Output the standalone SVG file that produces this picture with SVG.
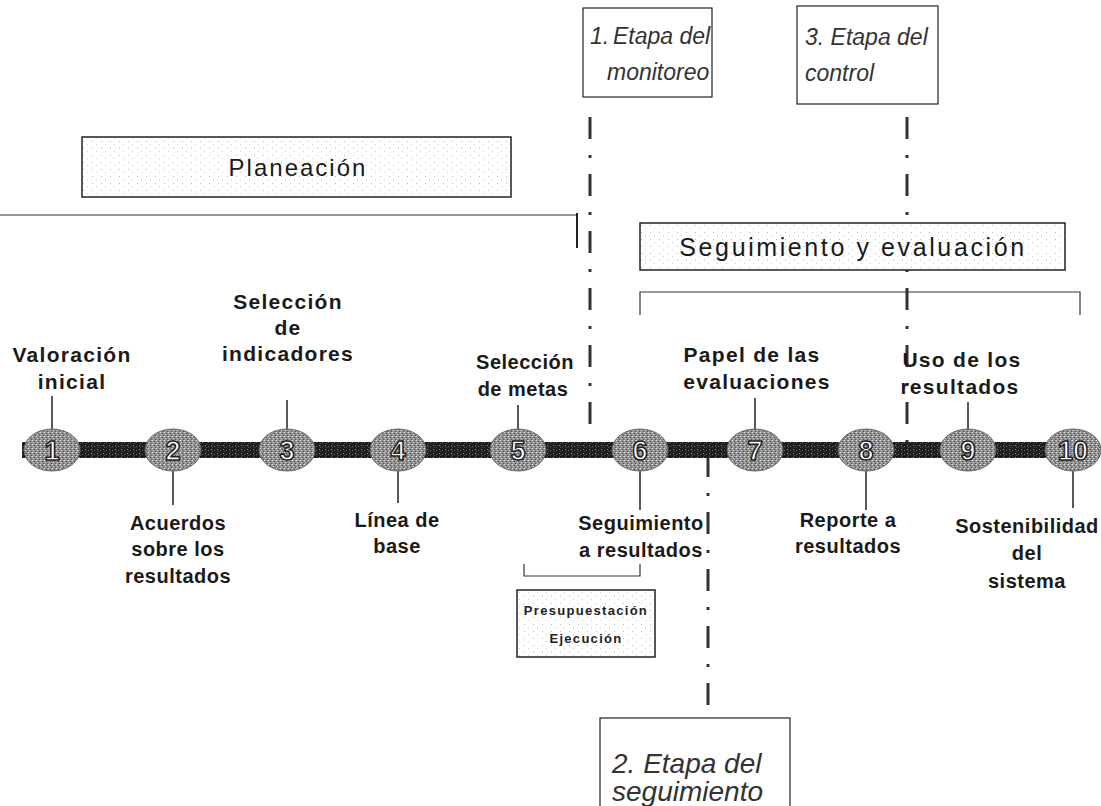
<svg xmlns="http://www.w3.org/2000/svg" width="1101" height="806" viewBox="0 0 1101 806">
<defs>
<pattern id="stip" width="9" height="7" patternUnits="userSpaceOnUse">
<rect width="9" height="7" fill="#ffffff"/>
<rect x="2" y="1" width="1" height="1" fill="#bbb"/>
<rect x="6" y="4" width="1" height="1" fill="#ccc"/>
</pattern>
<pattern id="ball" width="4" height="4" patternUnits="userSpaceOnUse">
<rect width="4" height="4" fill="#8f8f8f"/>
<rect x="0" y="0" width="1" height="1" fill="#e0e0e0"/>
<rect x="2" y="1" width="1" height="1" fill="#4a4a4a"/>
<rect x="1" y="2" width="1" height="1" fill="#cfcfcf"/>
<rect x="3" y="3" width="1" height="1" fill="#555"/>
<rect x="3" y="0" width="1" height="1" fill="#b0b0b0"/>
</pattern>
<pattern id="bar" width="6" height="4" patternUnits="userSpaceOnUse">
<rect width="6" height="4" fill="#1e1e1e"/>
<rect x="1" y="1" width="1" height="1" fill="#8a8a8a"/>
<rect x="4" y="2" width="1" height="1" fill="#6a6a6a"/>
<rect x="2" y="3" width="1" height="1" fill="#555"/>
</pattern>
</defs>
<style>
.lbl{font-family:"Liberation Sans",Arial,sans-serif;font-weight:bold;font-size:20px;fill:#1a1a1a;text-anchor:middle;letter-spacing:0.5px}
.up{font-size:21px;letter-spacing:1.3px}
.num{font-family:"Liberation Sans",Arial,sans-serif;font-weight:bold;font-size:27px;fill:#fff;stroke:#222;stroke-width:1.5;text-anchor:middle}
.ball{fill:url(#ball);stroke:#666;stroke-width:1}
.lead{stroke:#222;stroke-width:1.5;fill:none}
.ital{font-family:"Liberation Sans",Arial,sans-serif;font-style:italic;font-size:23px;fill:#333}
.ital2{font-family:"Liberation Sans",Arial,sans-serif;font-style:italic;font-size:28px;fill:#333}
.box{fill:#fff;stroke:#222;stroke-width:1.2}
.sbox{fill:url(#stip);stroke:#222;stroke-width:1.5}
.hdr{font-family:"Liberation Sans",Arial,sans-serif;font-size:24px;fill:#1a1a1a;text-anchor:middle;letter-spacing:2px}
.dd{stroke:#333;stroke-width:3;stroke-dasharray:22 16 3 16;fill:none}
.thin{stroke:#333;stroke-width:1.2;fill:none}
.small{font-family:"Liberation Sans",Arial,sans-serif;font-weight:bold;font-size:13px;fill:#222;text-anchor:middle;letter-spacing:1.3px}
</style>

<g id="connectors">
<line class="dd" x1="590" y1="117" x2="590" y2="440"/>
<line class="dd" x1="907" y1="117" x2="907" y2="445"/>
<line class="dd" x1="708" y1="455" x2="708" y2="762"/>
<polyline class="thin" points="0,215 577,215"/>
<line x1="577" y1="213" x2="577" y2="248" stroke="#222" stroke-width="2"/>
<polyline class="thin" points="640,315 640,292 1080,292 1080,315"/>
<polyline class="thin" points="524,564 524,576 640,576 640,564"/>
<line class="lead" x1="52" y1="396" x2="52" y2="432"/>
<line class="lead" x1="173" y1="470" x2="173" y2="505"/>
<line class="lead" x1="287" y1="400" x2="287" y2="432"/>
<line class="lead" x1="398" y1="468" x2="398" y2="503"/>
<line class="lead" x1="518" y1="405" x2="518" y2="432"/>
<line class="lead" x1="640" y1="470" x2="640" y2="510"/>
<line class="lead" x1="755" y1="398" x2="755" y2="432"/>
<line class="lead" x1="866" y1="470" x2="866" y2="510"/>
<line class="lead" x1="968" y1="402" x2="968" y2="432"/>
<line class="lead" x1="1073" y1="470" x2="1073" y2="508"/>
</g>

<g id="timeline">
<rect x="22" y="442" width="1062" height="16" fill="url(#bar)"/>
</g>

<g id="n1"><ellipse class="ball" cx="52" cy="450" rx="28" ry="21"/><text class="num" x="52" y="460">1</text></g>
<g id="n2"><ellipse class="ball" cx="173" cy="450" rx="28" ry="21"/><text class="num" x="173" y="460">2</text></g>
<g id="n3"><ellipse class="ball" cx="287" cy="450" rx="28" ry="21"/><text class="num" x="287" y="460">3</text></g>
<g id="n4"><ellipse class="ball" cx="398" cy="450" rx="28" ry="21"/><text class="num" x="398" y="460">4</text></g>
<g id="n5"><ellipse class="ball" cx="518" cy="450" rx="28" ry="21"/><text class="num" x="518" y="460">5</text></g>
<g id="n6"><ellipse class="ball" cx="640" cy="450" rx="28" ry="21"/><text class="num" x="640" y="460">6</text></g>
<g id="n7"><ellipse class="ball" cx="755" cy="450" rx="28" ry="21"/><text class="num" x="755" y="460">7</text></g>
<g id="n8"><ellipse class="ball" cx="866" cy="450" rx="28" ry="21"/><text class="num" x="866" y="460">8</text></g>
<g id="n9"><ellipse class="ball" cx="968" cy="450" rx="28" ry="21"/><text class="num" x="968" y="460">9</text></g>
<g id="n10"><ellipse class="ball" cx="1073" cy="450" rx="28" ry="21"/><text class="num" x="1073" y="460">10</text></g>

<g id="labels">
<text class="lbl up" x="72" y="362">Valoración</text>
<text class="lbl up" x="72" y="389">inicial</text>
<text class="lbl up" x="288" y="309">Selección</text>
<text class="lbl up" x="288" y="335">de</text>
<text class="lbl up" x="288" y="361">indicadores</text>
<text class="lbl" x="525" y="369">Selección</text>
<text class="lbl" x="523" y="396">de metas</text>
<text class="lbl up" x="752" y="362">Papel de las</text>
<text class="lbl up" x="757" y="389">evaluaciones</text>
<text class="lbl up" x="962" y="367">Uso de los</text>
<text class="lbl up" x="960" y="394">resultados</text>
<text class="lbl" x="178" y="530">Acuerdos</text>
<text class="lbl" x="178" y="556">sobre los</text>
<text class="lbl" x="178" y="583">resultados</text>
<text class="lbl" x="397" y="527">Línea de</text>
<text class="lbl" x="397" y="553">base</text>
<text class="lbl" x="641" y="530">Seguimiento</text>
<text class="lbl" x="641" y="557">a resultados</text>
<text class="lbl" x="848" y="527">Reporte a</text>
<text class="lbl" x="848" y="553">resultados</text>
<text class="lbl" x="1027" y="533">Sostenibilidad</text>
<text class="lbl" x="1027" y="560">del</text>
<text class="lbl" x="1027" y="588">sistema</text>
</g>

<g id="stage1">
<rect class="box" x="583" y="8" width="129" height="89"/>
<text class="ital" x="590" y="44">1.</text>
<text class="ital" x="613" y="44">Etapa del</text>
<text class="ital" x="607" y="80">monitoreo</text>
</g>

<g id="stage3">
<rect class="box" x="797" y="6" width="141" height="98"/>
<text class="ital" x="805" y="45">3. Etapa del</text>
<text class="ital" x="805" y="81">control</text>
</g>

<g id="stage2">
<rect class="box" x="600" y="718" width="190" height="100"/>
<text class="ital2" x="612" y="773">2. Etapa del</text>
<text class="ital2" x="612" y="801">seguimiento</text>
</g>

<g id="planeacion">
<rect class="sbox" x="82" y="137" width="429" height="60"/>
<text class="hdr" x="298" y="176">Planeación</text>
</g>

<g id="seguimiento">
<rect class="sbox" x="640" y="223" width="425" height="47"/>
<text class="hdr" x="853" y="256" style="font-size:25px;letter-spacing:2.6px">Seguimiento y evaluación</text>
</g>

<g id="presupuesto">
<rect class="sbox" x="517" y="590" width="138" height="67"/>
<text class="small" x="586" y="615">Presupuestación</text>
<text class="small" x="586" y="643">Ejecución</text>
</g>
</svg>
